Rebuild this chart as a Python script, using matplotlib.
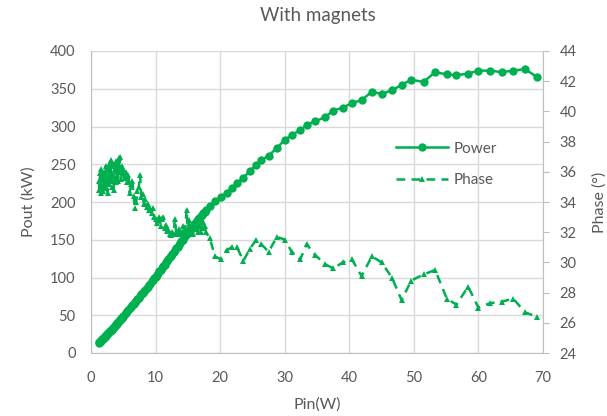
import matplotlib
matplotlib.use("Agg")
import matplotlib.pyplot as plt
from matplotlib.lines import Line2D

# ---- data ----
pin_w = [1.2, 1.3, 1.4, 1.5, 1.6, 1.7, 1.8, 1.9, 2.0, 2.1, 2.2, 2.3, 2.4, 2.5, 2.6, 2.7,
         2.8, 2.9, 3.0, 3.1, 3.2, 3.3, 3.4, 3.5, 3.6, 3.7, 3.8, 3.9, 4.0, 4.1, 4.2, 4.3,
         4.4, 4.5, 4.6, 4.7, 4.8, 4.9, 5.0, 5.2, 5.4, 5.6, 5.8, 6.0, 6.2, 6.4, 6.6, 6.8,
         7.0, 7.2, 7.4, 7.6, 7.8, 8.0, 8.2, 8.4, 8.6, 8.8, 9.0, 9.2, 9.4, 9.6, 9.8, 10.0,
         10.2, 10.4, 10.6, 10.8, 11.0, 11.2, 11.4, 11.6, 11.8, 12.0, 12.2, 12.4, 12.6, 12.8,
         13.0, 13.2, 13.4, 13.6, 13.8, 14.0, 14.2, 14.4, 14.6, 14.8, 15.0, 15.2, 15.4, 15.6,
         15.8, 16.0, 16.2, 16.4, 16.6, 16.8, 17.0, 17.2, 17.4, 17.6, 17.8,
         18.4, 19.2, 20.1, 21.0, 21.8, 22.6, 23.6, 24.6, 25.6, 26.4, 27.5, 28.8, 30.0,
         31.1, 32.4, 33.4, 34.7, 36.2, 37.5, 39.0, 40.4, 41.9, 43.5, 45.0, 46.6, 48.1,
         49.6, 51.5, 53.3, 55.1, 56.6, 58.4, 60.0, 61.8, 63.6, 65.4, 67.2, 69.0]

pout_kw = [13, 14, 15, 16, 17, 18, 19, 19.5, 20, 21, 22, 23, 24, 25, 26, 27,
           28, 28.5, 29, 30, 31, 32, 33, 34, 35, 36, 37, 38, 39, 40, 41, 42,
           43, 44, 45, 46, 47, 48, 49, 51, 53, 55, 57, 59, 61, 63, 65, 67,
           69, 71, 73, 75, 78, 80, 82, 84, 86, 88, 90, 92, 95, 97, 99, 101,
           103, 106, 108, 110, 113, 115, 117, 120, 122, 124, 127, 129, 131, 134,
           136, 139, 141, 143, 146, 148, 150, 153, 155, 157, 160, 162, 164, 166,
           168, 171, 173, 175, 177, 179, 181, 183, 185, 187, 189,
           195, 201, 206, 212, 219, 225, 232, 241, 249, 256, 261, 272, 282,
           289, 295, 302, 307, 312, 321, 325, 331, 335, 346, 343, 348, 355,
           362, 359, 372, 369, 368, 370, 374, 374, 372, 374, 376, 366]

phase_deg = [35.4, 34.8, 35.9, 34.6, 36.2, 35.1, 34.7, 35.6, 36.0, 34.9, 35.3, 36.4, 35.0, 35.7, 34.6, 36.3,
             35.2, 36.6, 35.5, 36.8, 35.0, 35.9, 36.5, 34.8, 35.6, 36.2, 35.3, 36.7, 35.8, 36.3, 35.4, 36.9,
             36.0, 37.0, 36.1, 35.5, 36.4, 35.9, 36.2, 35.6, 36.0, 35.3, 35.8, 34.6, 35.2, 35.4, 34.4, 33.6,
             34.0, 34.7, 35.0, 35.8, 34.3, 34.5, 33.9, 34.2, 33.7, 33.9, 33.5, 33.6, 33.3, 33.6, 33.0, 32.9,
             32.6, 32.8, 33.0, 32.4, 32.9, 33.0, 32.3, 32.5, 32.1, 32.2, 31.9, 31.8, 32.0, 31.9,
             32.9, 31.9, 32.0, 32.2, 31.9, 32.0, 32.4, 32.1, 32.2, 33.5, 32.1, 32.8, 32.3, 32.5,
             31.9, 32.6, 32.8, 32.2, 32.0, 32.5, 32.0, 32.3, 32.7, 32.4, 32.0,
             31.6, 30.4, 30.2, 30.8, 31.0, 31.0, 30.1, 30.9, 31.5, 31.2, 30.7, 31.7, 31.5,
             30.7, 30.2, 31.2, 30.5, 29.9, 29.6, 30.0, 30.2, 29.1, 30.4, 30.0, 29.0, 27.5,
             28.8, 29.2, 29.5, 27.6, 27.2, 28.4, 27.0, 27.3, 27.4, 27.6, 26.7, 26.4]

x_ticks = [0, 10, 20, 30, 40, 50, 60, 70]
y1_ticks = [0, 50, 100, 150, 200, 250, 300, 350, 400]
y2_ticks = [24, 26, 28, 30, 32, 34, 36, 38, 40, 42, 44]

GREEN = "#00B050"
TXT = "#595959"
GRID = "#D9D9D9"
SPINE = "#BFBFBF"

plt.rcParams['font.family'] = ['Lato', 'DejaVu Sans']

fig = plt.figure(figsize=(6.07, 4.16), dpi=100)
ax1 = fig.add_axes([91/607, 1-353/416, (543-91)/607, (353-51)/416])
ax2 = ax1.twinx()

DASH = (0, (3.5, 2.5))
ax1.plot(pin_w, pout_kw, color=GREEN, lw=1.8, marker='o', ms=6,
         markeredgewidth=0, zorder=3)
ax2.plot(pin_w, phase_deg, color=GREEN, lw=1.8, ls=DASH, marker='^', ms=4.8,
         markeredgewidth=0, zorder=3)

ax1.set_xlim(0, 70)
ax1.set_ylim(0, 400)
ax2.set_ylim(24, 44)
ax1.set_xticks(x_ticks)
ax1.set_yticks(y1_ticks)
ax2.set_yticks(y2_ticks)

ax1.grid(True, color=GRID, lw=1.0)
ax1.set_axisbelow(True)

for ax in (ax1, ax2):
    for s in ax.spines.values():
        s.set_visible(False)
ax1.spines['left'].set_visible(True)
ax1.spines['left'].set_color(SPINE)
ax1.spines['bottom'].set_visible(True)
ax1.spines['bottom'].set_color(SPINE)
ax2.spines['right'].set_visible(True)
ax2.spines['right'].set_color(SPINE)

ax1.tick_params(axis='y', colors=TXT, labelsize=10.5, length=0, pad=11)
ax1.tick_params(axis='x', colors=TXT, labelsize=10.5, length=0, pad=13)
ax2.tick_params(axis='y', colors=TXT, labelsize=10.5, length=4, color=SPINE, pad=8)

ax1.set_xlabel("Pin(W)", color=TXT, fontsize=11.5, labelpad=9)
ax1.set_ylabel("Pout (kW)", color=TXT, fontsize=11.5, labelpad=10)
ax2.set_ylabel("Phase (°)", color=TXT, fontsize=11.5, labelpad=11)

fig.text(318/607, 1-15/416, "With magnets", ha='center', va='center',
         color=TXT, fontsize=13.5)

handles = [Line2D([], [], color=GREEN, lw=1.8, marker='o', ms=6, markeredgewidth=0),
           Line2D([], [], color=GREEN, lw=1.8, ls=DASH, marker='^', ms=4.8,
                  markeredgewidth=0)]
leg = ax2.legend(handles, ["Power", "Phase"], loc='upper left',
                 bbox_to_anchor=((382-91)/452, (353-128)/302), frameon=False,
                 fontsize=11, labelcolor=TXT, handlelength=3.4, handletextpad=0.4,
                 labelspacing=1.15)

fig.savefig("out.png", dpi=100)
